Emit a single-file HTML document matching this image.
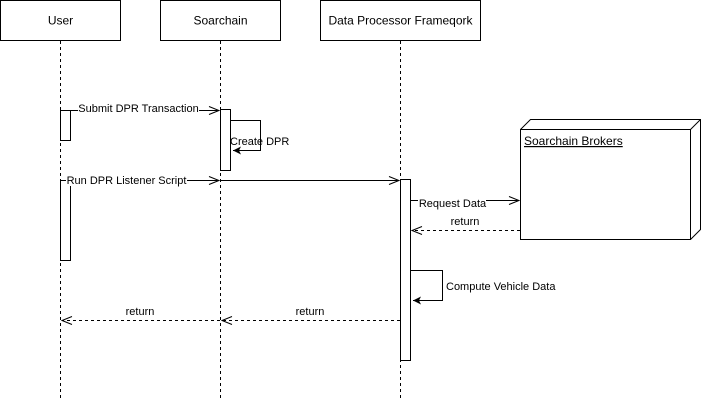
<!DOCTYPE html>
<html><head><meta charset="utf-8"><style>
html,body{margin:0;padding:0;background:#fff;}
svg{display:block;font-family:"Liberation Sans",Arial,sans-serif;}
</style></head><body>
<svg width="701" height="401" viewBox="0 0 701 401" xmlns="http://www.w3.org/2000/svg">
<defs>
<marker id="open" markerWidth="12" markerHeight="10" refX="11" refY="5" orient="auto" markerUnits="userSpaceOnUse"><path d="M1,1 L11,5 L1,9" fill="none" stroke="#000" stroke-width="1"/></marker>
<marker id="fill" markerWidth="10" markerHeight="8" refX="8" refY="4" orient="auto" markerUnits="userSpaceOnUse"><path d="M0,0 L8,4 L0,8 L2,4 Z" fill="#000"/></marker>
</defs>
<g fill="#fff" stroke="#000" stroke-width="1">
<rect x="0.5" y="0.5" width="120" height="40"/>
<rect x="160.5" y="0.5" width="120" height="40"/>
<rect x="320.5" y="0.5" width="160" height="40"/>
</g>
<g font-size="12" text-anchor="middle" fill="#000">
<text x="60.5" y="24.5">User</text>
<text x="220.5" y="24.5">Soarchain</text>
<text x="400.5" y="24.5">Data Processor Frameqork</text>
</g>
<g stroke="#000" stroke-dasharray="3,3" fill="none">
<line x1="60.5" y1="41" x2="60.5" y2="400"/>
<line x1="220.5" y1="41" x2="220.5" y2="400"/>
<line x1="400.5" y1="41" x2="400.5" y2="400"/>
</g>
<g fill="#fff" stroke="#000">
<rect x="60.5" y="110.5" width="10" height="30"/>
<rect x="60.5" y="180.5" width="10" height="80"/>
<rect x="220.5" y="109.5" width="10" height="61"/>
<rect x="400.5" y="179.5" width="10" height="181"/>
</g>
<!-- node -->
<g fill="#fff" stroke="#000">
<path d="M520.5,129.5 L530.5,119.5 L700.5,119.5 L700.5,229.5 L690.5,239.5"/>
<path d="M690.5,129.5 L700.5,119.5"/>
<rect x="520.5" y="129.5" width="170" height="110"/>
</g>
<text x="524" y="145" font-size="12" text-decoration="underline">Soarchain Brokers</text>
<g stroke="#000" fill="none">
<line x1="71" y1="110.5" x2="219" y2="110.5" marker-end="url(#open)"/>
<path d="M231,120.5 H260.5 V150.5 H233" marker-end="url(#fill)"/>
<line x1="61" y1="180.5" x2="219" y2="180.5" marker-end="url(#open)"/>
<line x1="221" y1="180.5" x2="399" y2="180.5" marker-end="url(#open)"/>
<line x1="411" y1="200.5" x2="519" y2="200.5" marker-end="url(#open)"/>
<line x1="520" y1="230.5" x2="412" y2="230.5" stroke-dasharray="3,3" marker-end="url(#open)"/>
<path d="M411,270.5 H442.5 V300.5 H413" marker-end="url(#fill)"/>
<line x1="400" y1="320.5" x2="222" y2="320.5" stroke-dasharray="3,3" marker-end="url(#open)"/>
<line x1="220" y1="320.5" x2="62" y2="320.5" stroke-dasharray="3,3" marker-end="url(#open)"/>
</g>
<g font-size="11" fill="#000">
<rect x="78" y="102" width="121" height="13" fill="#fff"/>
<text x="138.5" y="112" text-anchor="middle">Submit DPR Transaction</text>
<text x="230" y="145">Create DPR</text>
<rect x="66" y="173" width="121" height="13" fill="#fff"/>
<text x="126.5" y="184" text-anchor="middle">Run DPR Listener Script</text>
<rect x="418" y="197" width="68" height="13" fill="#fff"/>
<text x="452.5" y="207" text-anchor="middle">Request Data</text>
<text x="465" y="225" text-anchor="middle">return</text>
<text x="446" y="290">Compute Vehicle Data</text>
<text x="140" y="315" text-anchor="middle">return</text>
<text x="310" y="315" text-anchor="middle">return</text>
</g>
</svg>
</body></html>
